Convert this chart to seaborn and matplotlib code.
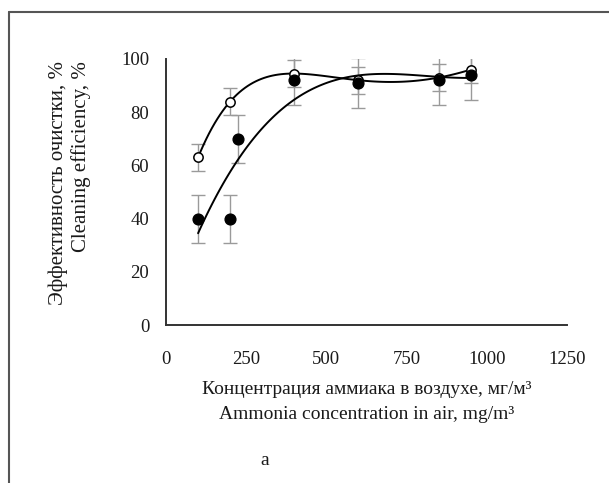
import numpy as np
import pandas as pd
import seaborn as sns
import matplotlib
matplotlib.use("Agg")
import matplotlib.pyplot as plt
from matplotlib.lines import Line2D

# open circles
conc_open = [100, 200, 400, 600, 850, 950]
eff_open = [63, 84, 94.5, 92, 93, 96]
err_open = [5, 5, 5, 5, 5, 5]

# filled circles
conc_filled = [100, 200, 225, 400, 600, 850, 950]
eff_filled = [40, 40, 70, 92, 91, 92, 94]
err_filled = [9, 9, 9, 9.5, 9.5, 9.5, 9.5]

x_ticks = [0, 250, 500, 750, 1000, 1250]
y_ticks = [0, 20, 40, 60, 80, 100]

df_open = pd.DataFrame({"x": conc_open, "y": eff_open, "e": err_open})
df_filled = pd.DataFrame({"x": conc_filled, "y": eff_filled, "e": err_filled})

sns.set_style("white")
plt.rcParams['font.family'] = ['Liberation Serif', 'DejaVu Serif']

fig = plt.figure(figsize=(6.09, 4.83), dpi=100)
ax = fig.add_axes([0.2726, 0.327, 0.6584, 0.551])

# error bars
for d in (df_open, df_filled):
    ax.errorbar(d["x"], d["y"], yerr=d["e"], fmt="none", ecolor="#9a9a9a",
                elinewidth=1.0, capsize=5, capthick=1.0, zorder=1)

# trend lines
sns.regplot(data=df_open, x="x", y="y", order=5, ci=None, scatter=False,
            truncate=True, color="black", line_kws={"linewidth": 1.4, "zorder": 2}, ax=ax)
sns.regplot(data=df_filled, x="x", y="y", order=3, ci=None, scatter=False,
            truncate=True, color="black", line_kws={"linewidth": 1.4, "zorder": 2}, ax=ax)

# markers (filled drawn over open ones)
sns.scatterplot(data=df_open, x="x", y="y", s=45, facecolor="white",
                edgecolor="black", linewidth=1.1, zorder=4, ax=ax)
sns.scatterplot(data=df_filled, x="x", y="y", s=60, color="black",
                edgecolor="black", linewidth=1, zorder=5, ax=ax)

ax.set_xlim(0, 1250)
ax.set_ylim(0, 100)
ax.set_xticks(x_ticks)
ax.set_yticks(y_ticks)
ax.tick_params(direction="in", length=4, width=1.2, colors="#333333",
               labelsize=13.5, labelcolor="#1a1a1a")
ax.tick_params(axis="x", pad=19)
ax.tick_params(axis="y", pad=12)
for s in ["top", "right"]:
    ax.spines[s].set_visible(False)
for s in ["left", "bottom"]:
    ax.spines[s].set_color("#333333")
    ax.spines[s].set_linewidth(1.4)

ax.set_xlabel("Концентрация аммиака в воздухе, мг/м³\nAmmonia concentration in air, mg/m³",
              fontsize=14, labelpad=9, linespacing=1.6, color="#1a1a1a")
ax.set_ylabel("Эффективность очистки, %\nCleaning efficiency, %",
              fontsize=15, labelpad=22, linespacing=1.2, color="#1a1a1a",
              multialignment="right", y=0.535)

fig.text(0.435, 0.047, "a", fontsize=14, ha="center", va="center", color="#1a1a1a")

# outer frame lines (top and left)
fig.add_artist(Line2D([9/609, 1.0], [1 - 12/483, 1 - 12/483], transform=fig.transFigure,
                      color="#555555", linewidth=1.5))
fig.add_artist(Line2D([9/609, 9/609], [0, 1 - 12/483], transform=fig.transFigure,
                      color="#555555", linewidth=1.5))

fig.savefig("out.png", dpi=100)
